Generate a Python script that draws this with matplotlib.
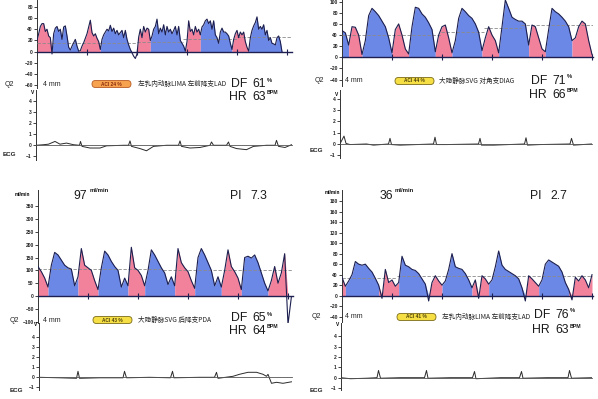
import numpy as np
import matplotlib.pyplot as plt
from matplotlib.patches import FancyBboxPatch

# ---- figure size in pixels (dpi 100) ----
W, H = 598, 399
plt.rcParams['font.family'] = ['Liberation Sans', 'Noto Sans CJK SC', 'DejaVu Sans']

BLUE = '#6c88e6'   # diastole
PINK = '#f2819b'   # systole
NAVY = '#1c1f4f'

# ============================================================
# Data
# ============================================================

# --- panel 1 (top left): LIMA -> LAD, flow ml/min sampled at 30 Hz ---
tl_flow = [20, 32, 45, 50, 50, 36, 40, 28, 25, -4,
           32, 42, 45, 36, 40, 22, 44, 46, 28, 8,
           3, 10, 16, 22, 10, 1, 2, 10, 16, 24,
           32, 44, 56, 34, 28, 32, 24, 18, 4, 22,
           30, 35, 40, 37, 47, 36, 42, 32, 38, 30,
           34, 38, 25, 38, 22, 12, 4, -2, -8, -12,
           -4, 26, 40, 25, 45, 35, 42, 40, 20, 28,
           40, 45, 58, 32, 42, 35, 48, 30, 45, 35,
           40, 32, 38, 45, 30, 45, 20, 15, 10, 1,
           18, 55, 36, 40, 30, 45, 35, 40, 30, 44,
           48, 55, 58, 50, 55, 40, 55, 30, 25, 15,
           35, 42, 35, 35, 32, 28, 15, 4, 22, 32,
           38, 25, 35, 30, 35, 18, 8, 1, 25, 38,
           46, 52, 62, 40, 45, 40, 48, 30, 38, 20,
           25, 15, 14, 12, 25, 28, 18, 0]
tl_dt = 1 / 30
tl_bounds = [0, 9, 25, 38, 60, 68, 89, 98, 117, 127, 147]   # first phase systole
tl_mean_t = [0, 1.99, 2.92, 3.99, 5.1]
tl_mean_v = [15, 18, 22, 27]
tl_ecg_t = [0, 0.15, 0.25, 0.38, 0.48, 0.61, 0.75, 0.87, 0.89, 0.92, 1.08, 1.28, 1.41,
            1.75, 1.85, 1.88, 1.91, 2.08, 2.21, 2.35, 2.61, 2.85, 2.88, 2.91, 3.08,
            3.28, 3.48, 3.51, 3.55, 3.81, 3.85, 3.88, 4.01, 4.21, 4.35, 4.61, 4.78,
            4.81, 4.85, 4.98, 5.11]
tl_ecg_v = [0, 0.05, 0.1, 0.35, 0.1, 0.2, 0.05, 0, 0.35, -0.1, -0.25, -0.25, -0.05,
            0, 0, 0.4, -0.1, -0.3, -0.5, -0.1, 0, 0, 0.4, -0.1, -0.25,
            -0.2, 0, 0.3, 0, 0, 0.3, -0.1, -0.3, -0.4, -0.1, 0, 0,
            0.45, -0.1, -0.2, 0.05]

# --- panel 2 (top right): SVG -> DIAG, sampled at 15 Hz ---
tr_flow = [48, 44, 22, 55, 54, 40, 5, 30, 75, 88,
           82, 75, 65, 55, 35, 8, 50, 60, 40, 15,
           6, 55, 90, 88, 78, 72, 62, 50, 10, 40,
           55, 58, 35, 8, 30, 70, 88, 82, 75, 70,
           60, 45, 12, 35, 55, 40, 30, 8, 55, 103,
           88, 72, 68, 65, 65, 60, 22, 58, 55, 35,
           15, 10, 50, 88, 82, 78, 72, 65, 55, 30,
           35, 55, 65, 60, 30, 5]
tr_dt = 1 / 15
tr_bounds = [0, 2, 6, 15, 20, 28, 33, 42, 47, 56, 61, 69, 75]   # first phase diastole
tr_mean_t = [0, 1.99, 2.85, 3.59, 5.02]
tr_mean_v = [40, 46, 52, 58]
tr_ecg_t = [0.01, 0.08, 0.12, 0.2, 0.53, 0.67, 0.97, 1.0, 1.03, 1.2, 1.87, 1.9, 1.93,
            2.13, 2.77, 2.8, 2.83, 3.07, 3.69, 3.72, 3.75, 4.0, 4.6, 4.63, 4.67, 5.03]
tr_ecg_v = [0.1, 0.7, 0.05, -0.05, 0, -0.1, 0, 0.5, -0.05, -0.1, 0, 0.6, -0.05,
            -0.05, 0, 0.5, -0.1, -0.1, 0, 0.55, -0.1, -0.05, 0, 0.5, -0.1, 0]

# --- panel 3 (bottom left): SVG -> PDA, sampled at 15 Hz ---
bl_flow = [115, 95, 70, 35, 120, 170, 160, 140, 120, 110,
           105, 40, 75, 185, 120, 110, 100, 60, 25, 110,
           175, 160, 135, 115, 100, 35, 70, 40, 190, 110,
           100, 80, 40, 100, 180, 160, 135, 110, 90, 45,
           75, 40, 185, 130, 110, 95, 60, 30, 150, 185,
           160, 130, 100, 40, 75, 35, 100, 180, 115, 95,
           70, 25, 150, 155, 148, 160, 130, 90, 50, 20,
           60, 115, 50, 90, 165, -110, -5]
bl_dt = 1 / 15
bl_bounds = [0, 3, 12, 18, 27, 32, 41, 47, 55, 61, 69, 76]   # first phase systole
bl_mean_t = [0, 2.5, 5.1]
bl_mean_v = [106, 101]
bl_ecg_t = [0, 0.41, 0.75, 0.78, 0.81, 1.21, 1.68, 1.71, 1.75, 2.21, 2.63, 2.67, 2.7,
            3.21, 3.51, 3.55, 3.58, 3.88, 4.01, 4.18, 4.35, 4.48, 4.55, 4.58, 4.65,
            4.75, 4.88, 5.05]
bl_ecg_v = [0, -0.05, -0.1, 0.6, -0.1, -0.05, -0.05, 0.6, -0.05, 0, -0.05, 0.6, -0.05,
            0, 0, 0.5, -0.1, 0.1, 0.3, 0.5, 0.5, 0.3, 0.1, 0.3, -0.6,
            -0.5, -0.6, -0.45]

# --- panel 4 (bottom right): LIMA -> LAD, sampled at 15 Hz ---
br_flow = [35, 18, 28, 40, 65, 60, 58, 60, 52, 45,
           33, 20, -5, 50, 25, 30, 18, 25, 75, 58,
           55, 50, 48, 42, 32, 22, -10, 25, 38, 28,
           20, 28, 50, 80, 55, 52, 50, 42, 30, 15,
           30, -5, 38, 32, 22, 30, 55, 85, 58, 50,
           46, 42, 38, 32, 15, -10, 38, 32, 25, 18,
           30, 60, 68, 64, 60, 56, 45, 25, 12, -8,
           35, 28, 38, 30, 15, 40]
br_dt = 1 / 15
br_bounds = [0, 1, 11, 17, 26, 30, 39, 44, 55, 59, 68, 75]   # first phase systole
br_mean_t = [0, 1.1, 5.02]
br_mean_v = [34, 38]
br_ecg_t = [0, 0.19, 0.52, 0.72, 0.75, 0.79, 1.19, 1.67, 1.71, 1.74, 2.19, 2.63, 2.67,
            2.7, 3.19, 3.57, 3.61, 3.64, 4.12, 4.54, 4.57, 4.61, 5.02]
br_ecg_v = [0, -0.1, -0.05, 0, 0.7, -0.05, 0, 0, 0.7, -0.05, 0, 0, 0.6,
            -0.1, 0, 0, 0.6, -0.05, 0, 0, 0.7, -0.05, 0]

# --- readouts ---
grafts = ['左乳内动脉LIMA 左前降支LAD', '大隐静脉SVG 对角支DIAG',
          '大隐静脉SVG 后降支PDA', '左乳内动脉LIMA 左前降支LAD']
aci = [24, 44, 43, 41]
df = [61, 71, 65, 76]
hr = [63, 66, 64, 63]
mean_flow = [97, 36]
pi = [7.3, 2.7]

# ============================================================
fig = plt.figure(figsize=(W / 100, H / 100), dpi=100)
fig.patch.set_facecolor('white')

BIG = 8.8


def px_axes(x0, y0, x1, y1):
    return fig.add_axes([x0 / W, 1 - y1 / H, (x1 - x0) / W, (y1 - y0) / H])


def txt(x, y, s, size, **kw):
    kw.setdefault('va', 'center')
    kw.setdefault('ha', 'left')
    return fig.text(x / W, 1 - y / H, s, fontsize=size, **kw)


def style_axes(ax, xmax, ylim, yticks, base_color, base_lw):
    ax.set_xlim(0, xmax)
    ax.set_ylim(*ylim)
    ax.patch.set_alpha(0)
    for s in ['top', 'right']:
        ax.spines[s].set_visible(False)
    ax.spines['bottom'].set_position(('data', 0))
    ax.spines['bottom'].set_color(base_color)
    ax.spines['bottom'].set_linewidth(base_lw)
    ax.spines['left'].set_color('#333333')
    ax.spines['left'].set_linewidth(0.7)
    ax.set_yticks(yticks)
    ax.tick_params(axis='y', direction='out', length=2, width=0.6, labelsize=3.5,
                   pad=1, colors='#222222')
    for lab in ax.get_yticklabels():
        lab.set_fontweight('bold')


def flow_panel(rect, xmax, ylim, yticks, q, dt, bounds, first, mean_t, mean_v):
    ax = px_axes(*rect)
    style_axes(ax, xmax, ylim, yticks, NAVY, 1.0)
    ax.set_xticks(np.arange(1, int(xmax) + 1))
    ax.tick_params(axis='x', direction='inout', length=4, width=0.8, colors=NAVY,
                   labelbottom=False)
    q = np.asarray(q, dtype=float)
    t = np.arange(len(q)) * dt
    phase = first
    for a, b in zip(bounds[:-1], bounds[1:]):
        ax.fill_between(t[a:b + 1], 0, np.clip(q[a:b + 1], 0, None),
                        color=PINK if phase == 's' else BLUE, lw=0)
        phase = 'd' if phase == 's' else 's'
    ax.hlines(mean_v, mean_t[:-1], mean_t[1:], colors='#8a8a8a',
              linestyles=(0, (4, 2)), lw=0.6, zorder=3)
    ax.plot(t, q, color=NAVY, lw=0.8, zorder=4)
    return ax


def ecg_panel(rect, xmax, ylim, t, v):
    ax = px_axes(*rect)
    style_axes(ax, xmax, ylim, [-1, 0, 1, 2, 3, 4], '#555555', 0.6)
    ax.set_xticks([])
    ax.plot(t, v, color='#2a2a2a', lw=0.7)
    return ax


def badge(x0, y, w, value, face, edge, tcol):
    h = 7
    box = FancyBboxPatch((x0 / 100, (H - y - h / 2) / 100), w / 100, h / 100,
                         boxstyle='round,pad=0,rounding_size=0.035',
                         transform=fig.dpi_scale_trans, fc=face, ec=edge, lw=0.6)
    fig.add_artist(box)
    txt(x0 + w / 2, y, f'ACI {value} %', 3.4, ha='center', color=tcol, fontweight='bold')


def readout_rows(x_q, x_mm, y, i, badge_x, label_x, df_x, df_y, hr_y, face, edge, tcol):
    txt(x_q, y, 'Q2', 5, color='#222222')
    txt(x_mm, y, '4 mm', 5, color='#222222')
    badge(badge_x, y, 39, aci[i], face, edge, tcol)
    txt(label_x, y, grafts[i], 4.8, color='#222222',
        family=['Noto Sans CJK SC', 'DejaVu Sans'])
    txt(df_x, df_y, 'DF', BIG, color='#1a1a1a')
    txt(df_x + 21, df_y, f'{df[i]}', BIG, color='#1a1a1a')
    txt(df_x + 36, df_y - 4, '%', 4.2, color='#1a1a1a', fontweight='bold')
    txt(df_x - 2, hr_y, 'HR', BIG, color='#1a1a1a')
    txt(df_x + 21, hr_y, f'{hr[i]}', BIG, color='#1a1a1a')
    txt(df_x + 36, hr_y - 4, 'BPM', 3.8, color='#1a1a1a', fontweight='bold')


# ---- panel 1 ----
flow_panel((37, 0, 292, 88), 5.1, (-64.5, 92), np.arange(-60, 81, 20),
           tl_flow, tl_dt, tl_bounds, 's', tl_mean_t, tl_mean_v)
ecg_panel((36, 90, 292, 160), 5.12, (-1.34, 5.03), tl_ecg_t, tl_ecg_v)
readout_rows(5, 43, 84, 0, 92, 138, 231, 84, 97, '#f6a24e', '#b85a24', '#8a2a10')
txt(33, 92, 'V', 3.5, fontweight='bold', ha='center')
txt(3, 155, 'ECG', 4.5, fontweight='bold', color='#222222')

# ---- panel 2 ----
flow_panel((342, 0, 593, 86), 5.02, (-51.6, 103), np.arange(-40, 101, 20),
           tr_flow, tr_dt, tr_bounds, 'd', tr_mean_t, tr_mean_v)
ecg_panel((340, 90, 592, 158), 5.04, (-1.24, 4.78), tr_ecg_t, tr_ecg_v)
readout_rows(315, 345, 81, 1, 395, 439, 531, 81, 95, '#f6df45', '#7a6a18', '#4a3e08')
txt(337, 94, 'V', 3.5, fontweight='bold', ha='center')
txt(310, 150, 'ECG', 4.5, fontweight='bold', color='#222222')

# ---- panel 3 ----
flow_panel((38, 190, 293, 323), 5.1, (-105, 413), np.arange(-100, 351, 50),
           bl_flow, bl_dt, bl_bounds, 's', bl_mean_t, bl_mean_v)
ecg_panel((39, 323, 292, 390), 5.06, (-1.27, 5.43), bl_ecg_t, bl_ecg_v)
readout_rows(10, 43, 320, 2, 93, 138, 231, 318, 331, '#f6df45', '#7a6a18', '#4a3e08')
txt(22, 195, 'ml/min', 3.3, fontweight='bold', ha='center')
txt(73, 196, f'{mean_flow[0]}', BIG, color='#1a1a1a')
txt(90, 191, 'ml/min', 4.3, fontweight='bold', color='#1a1a1a')
txt(230, 196, 'PI', BIG, color='#1a1a1a')
txt(250, 196, f'{pi[0]}', BIG, color='#1a1a1a')
txt(36, 325, 'V', 3.5, fontweight='bold', ha='center')
txt(10, 390, 'ECG', 4.5, fontweight='bold', color='#222222')

# ---- panel 4 ----
flow_panel((342, 190, 593, 322), 5.02, (-50, 201), np.arange(-40, 181, 20),
           br_flow, br_dt, br_bounds, 's', br_mean_t, br_mean_v)
ecg_panel((341, 323, 592, 390), 5.02, (-1.19, 5.29), br_ecg_t, br_ecg_v)
readout_rows(312, 345, 317, 3, 397, 442, 534, 315, 330, '#f6df45', '#7a6a18', '#4a3e08')
txt(332, 192, 'ml/min', 3.3, fontweight='bold', ha='center')
txt(380, 196, f'{mean_flow[1]}', BIG, color='#1a1a1a')
txt(395, 191, 'ml/min', 4.3, fontweight='bold', color='#1a1a1a')
txt(530, 196, 'PI', BIG, color='#1a1a1a')
txt(550, 196, f'{pi[1]}', BIG, color='#1a1a1a')
txt(338, 325, 'V', 3.5, fontweight='bold', ha='center')
txt(310, 390, 'ECG', 4.5, fontweight='bold', color='#222222')

fig.savefig('out.png', dpi=100, facecolor='white')
